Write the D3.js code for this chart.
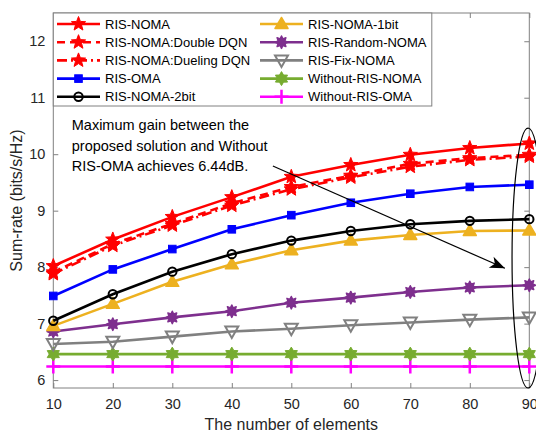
<!DOCTYPE html>
<html>
<head>
<meta charset="utf-8">
<script src="https://cdn.jsdelivr.net/npm/d3@7"></script>
<style>
  html, body { margin: 0; padding: 0; background: #fff; }
  svg { display: block; font-family: "Liberation Sans", Arial, sans-serif; }
</style>
</head>
<body>
<svg id="chart" width="536" height="434"></svg>
<script>
// Number of RIS elements (x axis)
const elements = [10, 20, 30, 40, 50, 60, 70, 80, 90];

// Sum-rate (bits/s/Hz) of each scheme
const risNoma        = [8.02, 8.49, 8.89, 9.24, 9.60, 9.81, 9.99, 10.11, 10.19];
const risNomaDouble  = [7.91, 8.41, 8.77, 9.13, 9.42, 9.62, 9.83, 9.93, 9.99];
const risNomaDueling = [7.88, 8.38, 8.74, 9.09, 9.38, 9.59, 9.78, 9.90, 9.96];
const risOma         = [7.49, 7.96, 8.32, 8.67, 8.92, 9.14, 9.30, 9.42, 9.46];
const risNoma2bit    = [7.05, 7.52, 7.92, 8.23, 8.47, 8.64, 8.76, 8.82, 8.85];
const risNoma1bit    = [6.96, 7.35, 7.74, 8.05, 8.30, 8.47, 8.57, 8.64, 8.65];
const risRandomNoma  = [6.86, 6.99, 7.11, 7.22, 7.37, 7.46, 7.56, 7.64, 7.68];
const risFixNoma     = [6.64, 6.68, 6.77, 6.86, 6.91, 6.97, 7.02, 7.07, 7.11];
const withoutRisNoma = [6.46, 6.46, 6.46, 6.46, 6.46, 6.46, 6.46, 6.46, 6.46];
const withoutRisOma  = [6.24, 6.24, 6.24, 6.24, 6.24, 6.24, 6.24, 6.24, 6.24];

const xTicks = [10, 20, 30, 40, 50, 60, 70, 80, 90];
const yTicks = [6, 7, 8, 9, 10, 11, 12];

const seriesNames = [
  "RIS-NOMA", "RIS-NOMA:Double DQN", "RIS-NOMA:Dueling DQN", "RIS-OMA", "RIS-NOMA-2bit",
  "RIS-NOMA-1bit", "RIS-Random-NOMA", "RIS-Fix-NOMA", "Without-RIS-NOMA", "Without-RIS-OMA"
];
const seriesValues = [
  risNoma, risNomaDouble, risNomaDueling, risOma, risNoma2bit,
  risNoma1bit, risRandomNoma, risFixNoma, withoutRisNoma, withoutRisOma
];

const annotationLines = [
  "Maximum gain between the",
  "proposed solution and Without",
  "RIS-OMA achieves 6.44dB."
];

// Line / marker styling per series
const styles = [
  { color: "#ff0000", dash: null,          marker: "star" },
  { color: "#ff0000", dash: "8,5",         marker: "star" },
  { color: "#ff0000", dash: "10,4,2,4",    marker: "star" },
  { color: "#0000ff", dash: null,          marker: "square" },
  { color: "#000000", dash: null,          marker: "circle" },
  { color: "#edb120", dash: null,          marker: "triangle" },
  { color: "#7e2f8e", dash: null,          marker: "asterisk" },
  { color: "#808080", dash: null,          marker: "triangleDown" },
  { color: "#77ac30", dash: null,          marker: "hexagram" },
  { color: "#ff00ff", dash: null,          marker: "plus" }
];

const plot = { left: 53.3, right: 529.3, top: 13, bottom: 388 };

const svg = d3.select("#chart");
const x = d3.scaleLinear().domain([10, 90]).range([plot.left, plot.right]);
const y = d3.scaleLinear().domain([5.86, 12.5]).range([plot.bottom, plot.top]);

const axisColor = "#808080";
const textColor = "#262626";

// Axes (box with inward ticks on all four sides)
const gx = svg.append("g").attr("transform", `translate(0,${plot.bottom})`)
  .call(d3.axisBottom(x).tickValues(xTicks).tickFormat(d3.format("d")).tickSize(-5).tickPadding(11));
const gxTop = svg.append("g").attr("transform", `translate(0,${plot.top})`)
  .call(d3.axisTop(x).tickValues(xTicks).tickSize(-5).tickFormat(""));
const gy = svg.append("g").attr("transform", `translate(${plot.left},0)`)
  .call(d3.axisLeft(y).tickValues(yTicks).tickFormat(d3.format("d")).tickSize(-5).tickPadding(8));
const gyRight = svg.append("g").attr("transform", `translate(${plot.right},0)`)
  .call(d3.axisRight(y).tickValues(yTicks).tickSize(-5).tickFormat(""));

[gx, gxTop, gy, gyRight].forEach(g => {
  g.select(".domain").remove();
  g.selectAll(".tick line").attr("stroke", axisColor).attr("stroke-width", 1);
  g.selectAll(".tick text").attr("fill", textColor)
    .style("font-size", "14.5px").style("font-family", "Liberation Sans, Arial, sans-serif");
});
gx.selectAll(".tick text").attr("dy", "0.71em");

svg.append("rect")
  .attr("x", plot.left).attr("y", plot.top)
  .attr("width", plot.right - plot.left).attr("height", plot.bottom - plot.top)
  .attr("fill", "none").attr("stroke", axisColor).attr("stroke-width", 1);

// Axis labels
svg.append("text")
  .attr("x", (plot.left + plot.right) / 2).attr("y", 430)
  .attr("text-anchor", "middle").attr("fill", textColor)
  .style("font-size", "16px").text("The number of elements");
svg.append("text")
  .attr("transform", `translate(22,${(plot.top + plot.bottom) / 2}) rotate(-90)`)
  .attr("text-anchor", "middle").attr("fill", textColor)
  .style("font-size", "16px").text("Sum-rate (bits/s/Hz)");

// Marker drawing
function starNPath(n, r, inner) {
  const pts = [];
  for (let i = 0; i < 2 * n; i++) {
    const a = -Math.PI / 2 + i * Math.PI / n;
    const rr = i % 2 === 0 ? r : inner;
    pts.push([rr * Math.cos(a), rr * Math.sin(a)]);
  }
  return "M" + pts.map(p => p.join(",")).join("L") + "Z";
}

function drawMarker(g, type, color, cx, cy) {
  const m = g.append("g").attr("transform", `translate(${cx},${cy})`);
  switch (type) {
    case "star":
      m.append("path").attr("d", starNPath(5, 7.5, 3.2))
        .attr("fill", color).attr("stroke", color).attr("stroke-width", 1);
      break;
    case "square":
      m.append("rect").attr("x", -3.8).attr("y", -3.8).attr("width", 7.6).attr("height", 7.6)
        .attr("fill", color).attr("stroke", color).attr("stroke-width", 1);
      break;
    case "circle":
      m.append("circle").attr("r", 4.2)
        .attr("fill", "none").attr("stroke", color).attr("stroke-width", 2);
      break;
    case "triangle":
      m.append("path").attr("d", "M0,-6.5L6.5,4.5L-6.5,4.5Z")
        .attr("fill", color).attr("stroke", color).attr("stroke-width", 1.5)
        .attr("stroke-linejoin", "round");
      break;
    case "triangleDown":
      m.append("path").attr("d", "M-6.5,-5L6.5,-5L0,6.5Z")
        .attr("fill", "none").attr("stroke", color).attr("stroke-width", 2);
      break;
    case "asterisk":
      m.append("path").attr("d", starNPath(8, 6.2, 3.6))
        .attr("fill", color).attr("stroke", color).attr("stroke-width", 1.5)
        .attr("stroke-linejoin", "round");
      break;
    case "hexagram":
      m.append("path").attr("d", starNPath(6, 7, 4.1))
        .attr("fill", color).attr("stroke", color).attr("stroke-width", 1);
      break;
    case "plus":
      m.append("path").attr("d", "M0,-7V7M-7,0H7")
        .attr("fill", "none").attr("stroke", color).attr("stroke-width", 2.5);
      break;
  }
}

// Series lines and markers (drawn bottom-up so the top curves overlay)
const line = d3.line().x((d, i) => x(elements[i])).y(d => y(d));
const plotG = svg.append("g");
for (let s = seriesValues.length - 1; s >= 0; s--) {
  const st = styles[s];
  const g = plotG.append("g");
  g.append("path").datum(seriesValues[s])
    .attr("d", line).attr("fill", "none")
    .attr("stroke", st.color).attr("stroke-width", 2.6)
    .attr("stroke-dasharray", st.dash);
  seriesValues[s].forEach((v, i) => drawMarker(g, st.marker, st.color, x(elements[i]), y(v)));
}

// Annotation: note text, arrow and ellipse around the 90-element results
const noteX = 13.1, noteY = [10.43, 10.06, 9.70];
const noteG = svg.append("g");
annotationLines.forEach((t, i) => {
  noteG.append("text").attr("x", x(noteX)).attr("y", y(noteY[i]))
    .attr("fill", "#000").style("font-size", "14.5px").text(t);
});

const arrowFrom = [46.9, 9.79], arrowTo = [85.9, 7.98];
const ax1 = x(arrowFrom[0]), ay1 = y(arrowFrom[1]);
const ax2 = x(arrowTo[0]), ay2 = y(arrowTo[1]);
noteG.append("line").attr("x1", ax1).attr("y1", ay1).attr("x2", ax2).attr("y2", ay2)
  .attr("stroke", "#000").attr("stroke-width", 1.2);
const ang = Math.atan2(ay2 - ay1, ax2 - ax1) * 180 / Math.PI;
noteG.append("path")
  .attr("transform", `translate(${ax2},${ay2}) rotate(${ang})`)
  .attr("d", "M0,0L-15,-6L-11,0L-15,6Z")
  .attr("fill", "#000");

const ell = { cx: 89.8, cy: 8.16, dx: 2.7, dy: 2.3 };
noteG.append("ellipse")
  .attr("cx", x(ell.cx)).attr("cy", y(ell.cy))
  .attr("rx", x(ell.cx + ell.dx) - x(ell.cx))
  .attr("ry", y(ell.cy - ell.dy) - y(ell.cy))
  .attr("fill", "none").attr("stroke", "#000").attr("stroke-width", 1.2);

// Legend (two columns)
const legend = svg.append("g");
legend.append("rect").attr("x", plot.left).attr("y", plot.top)
  .attr("width", 378.5).attr("height", 93)
  .attr("fill", "#fff").attr("stroke", axisColor).attr("stroke-width", 1);
const colX = [57, 260];
seriesNames.forEach((name, i) => {
  const col = Math.floor(i / 5), row = i % 5;
  const st = styles[i];
  const lx = colX[col], ly = 24 + row * 18.2;
  const g = legend.append("g");
  g.append("line").attr("x1", lx).attr("x2", lx + 43).attr("y1", ly).attr("y2", ly)
    .attr("stroke", st.color).attr("stroke-width", 2.6)
    .attr("stroke-dasharray", st.dash);
  drawMarker(g, st.marker, st.color, lx + 21.5, ly);
  g.append("text").attr("x", lx + 48).attr("y", ly).attr("dy", "0.36em")
    .attr("fill", "#000").style("font-size", "13px").text(name);
});
</script>
</body>
</html>
